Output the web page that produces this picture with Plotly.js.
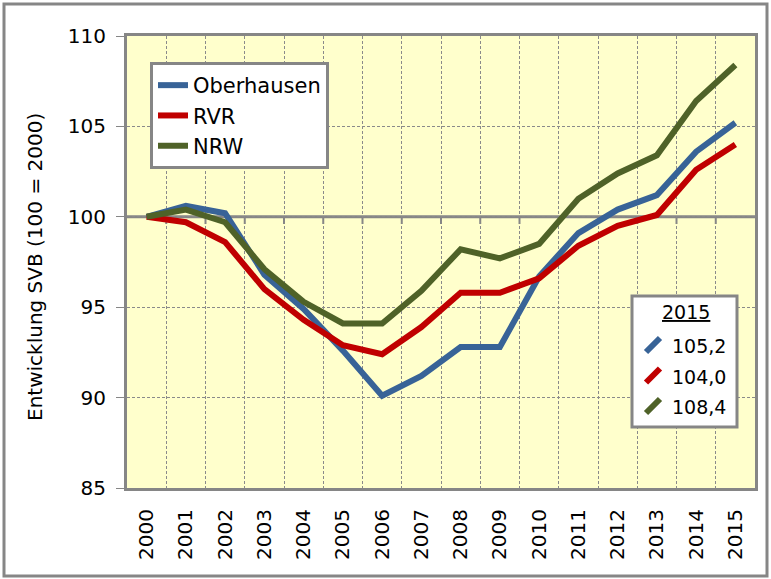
<!DOCTYPE html>
<html>
<head>
<meta charset="utf-8">
<script src="https://cdn.plot.ly/plotly-3.0.1.min.js"></script>
<style>html,body{margin:0;padding:0;background:#fff;}#chart{width:771px;height:579px;}</style>
</head>
<body>
<div id="chart"></div>
<script>
// ---- data ----
const years = ["2000","2001","2002","2003","2004","2005","2006","2007","2008","2009","2010","2011","2012","2013","2014","2015"];
const seriesNames = ["Oberhausen", "RVR", "NRW"];
const oberhausen = [100, 100.6, 100.2, 96.8, 94.9, 92.6, 90.1, 91.2, 92.8, 92.8, 96.7, 99.1, 100.4, 101.2, 103.6, 105.2];
const rvr        = [100, 99.7, 98.6, 96.0, 94.3, 92.9, 92.4, 93.9, 95.8, 95.8, 96.6, 98.4, 99.5, 100.1, 102.6, 104.0];
const nrw        = [100, 100.4, 99.7, 97.1, 95.3, 94.1, 94.1, 95.9, 98.2, 97.7, 98.5, 101.0, 102.4, 103.4, 106.4, 108.4];
const yTicks = [85, 90, 95, 100, 105, 110];
const yTitle = "Entwicklung SVB (100 = 2000)";
const refYear = "2015";

const colors = ["#386397", "#C00000", "#4F6228"];
const allSeries = [oberhausen, rvr, nrw];

// plot geometry (px)
const W = 771, H = 579, L = 127, R = 755, T = 36, B = 488;
const px = x => (x - L) / (R - L);
const py = y => (B - y) / (B - T);
const FONT = "DejaVu Sans, sans-serif";
const GRAY = "#868686";

const traces = allSeries.map((vals, i) => ({
  x: years, y: vals, type: "scatter", mode: "lines",
  name: seriesNames[i], legendgroup: "g" + i,
  line: {color: colors[i], width: 6}
}));

const shapes = [];
// outer frame
shapes.push({type: "rect", xref: "paper", yref: "paper", x0: px(4), x1: px(767), y0: py(576), y1: py(4),
  line: {color: GRAY, width: 3}, layer: "below"});
// 100 axis line
shapes.push({type: "line", xref: "paper", yref: "y", x0: 0, x1: 1, y0: 100, y1: 100,
  line: {color: GRAY, width: 3}, layer: "between"});
for (let k = 0; k < years.length - 1; k++) {
  shapes.push({type: "line", xref: "x", yref: "y", x0: k + 0.5, x1: k + 0.5, y0: 100, y1: 99.6,
    line: {color: GRAY, width: 2}, layer: "between"});
}
// second legend box
shapes.push({type: "rect", xref: "paper", yref: "paper", x0: px(632), x1: px(737), y0: py(427), y1: py(296),
  fillcolor: "#ffffff", line: {color: GRAY, width: 3}, layer: "above"});
const annotations = [];
annotations.push({xref: "paper", yref: "paper", x: px(686), y: py(312), text: "<u>" + refYear + "</u>",
  showarrow: false, font: {family: FONT, size: 19, color: "#000"}, xanchor: "center", yanchor: "middle"});
allSeries.forEach((vals, i) => {
  const cy = 346 + i * 30.5;
  shapes.push({type: "line", xref: "paper", yref: "paper", x0: px(646), x1: px(660), y0: py(cy + 6), y1: py(cy - 8),
    line: {color: colors[i], width: 6}, layer: "above"});
  annotations.push({xref: "paper", yref: "paper", x: px(670), y: py(cy), xanchor: "left", yanchor: "middle",
    text: vals[vals.length - 1].toFixed(1).replace(".", ","), showarrow: false,
    font: {family: FONT, size: 19, color: "#000"}});
});
// y title
annotations.push({xref: "paper", yref: "paper", x: px(35), y: py(267), text: yTitle, textangle: -90,
  showarrow: false, xanchor: "center", yanchor: "middle", font: {family: FONT, size: 20, color: "#000"}});

const layout = {
  width: W, height: H,
  margin: {l: L, r: W - R, t: T, b: H - B},
  paper_bgcolor: "#ffffff", plot_bgcolor: "#FFFFCC",
  showlegend: true,
  legend: {x: px(150), y: py(62), xanchor: "left", yanchor: "top",
    bgcolor: "#ffffff", bordercolor: GRAY, borderwidth: 3,
    font: {family: FONT, size: 21, color: "#000"}, tracegroupgap: 0, itemwidth: 30},
  xaxis: {type: "category", categoryorder: "array", categoryarray: years,
    tickangle: -90, tickson: "boundaries", ticks: "", showgrid: true,
    gridcolor: "#8a8a8a", gridwidth: 1, griddash: "3px,2px",
    showline: true, linecolor: GRAY, linewidth: 3, mirror: true,
    tickfont: {family: FONT, size: 20, color: "#000"}, ticklabelstandoff: 10,
    range: [-0.5, years.length - 0.5], fixedrange: true},
  yaxis: {range: [85, 110], tickvals: yTicks, ticktext: yTicks.map(String),
    ticks: "outside", ticklen: 8, tickcolor: GRAY, tickwidth: 1,
    showgrid: true, gridcolor: "#8a8a8a", gridwidth: 1, griddash: "3px,2px",
    showline: true, linecolor: GRAY, linewidth: 3, mirror: true, zeroline: false,
    tickfont: {family: FONT, size: 20, color: "#000"}, ticklabelstandoff: 6, fixedrange: true},
  shapes: shapes, annotations: annotations
};

Plotly.newPlot("chart", traces, layout, {displayModeBar: false, staticPlot: true});
</script>
</body>
</html>
